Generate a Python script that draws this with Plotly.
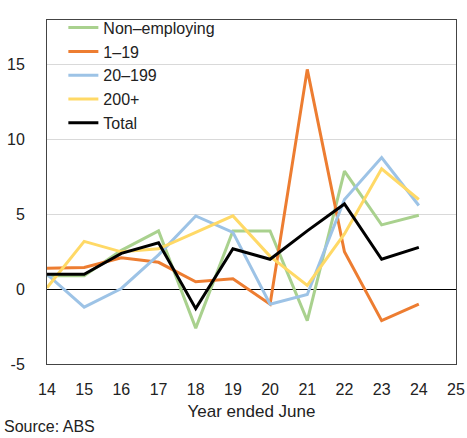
import plotly.graph_objects as go

years = [14, 15, 16, 17, 18, 19, 20, 21, 22, 23, 24]
non_employing = [0.9, 0.9, 2.6, 3.9, -2.6, 3.9, 3.9, -2.1, 7.9, 4.3, 4.95]
small_1_19 = [1.4, 1.45, 2.1, 1.8, 0.5, 0.7, -1.0, 14.7, 2.5, -2.1, -1.0]
mid_20_199 = [1.0, -1.2, 0.05, 2.3, 4.9, 3.8, -1.0, -0.35, 6.0, 8.8, 5.6]
large_200 = [0.1, 3.2, 2.5, 2.7, 3.8, 4.9, 2.2, 0.25, 3.7, 8.05, 6.0]
total = [1.0, 1.0, 2.4, 3.1, -1.3, 2.7, 2.0, 3.9, 5.7, 2.0, 2.8]

x_ticks = list(range(14, 26))
y_ticks = [-5, 0, 5, 10, 15]

series = [
    ("Non\u2013employing", non_employing, "#A9D18E"),
    ("1\u201319", small_1_19, "#ED7D31"),
    ("20\u2013199", mid_20_199, "#9DC3E6"),
    ("200+", large_200, "#FFD966"),
    ("Total", total, "#000000"),
]

fig = go.Figure()
for name, vals, col in series:
    fig.add_trace(go.Scatter(x=years, y=vals, name=name, mode="lines",
                             line=dict(color=col, width=3)))

font = "Liberation Sans, Arial, sans-serif"
fig.update_layout(
    width=467, height=438,
    margin=dict(l=47, r=11, t=13, b=74),
    paper_bgcolor="white", plot_bgcolor="white",
    font=dict(family=font, size=16, color="#222"),
    showlegend=True,
    legend=dict(x=0.04, y=1.027, xanchor="left", yanchor="top",
                bgcolor="rgba(0,0,0,0)", font=dict(size=16),
                tracegroupgap=0, itemwidth=30),
    xaxis=dict(range=[14, 25], tickvals=x_ticks, ticktext=[str(t) for t in x_ticks],
               showgrid=False, zeroline=False, showline=True, linecolor="#444",
               linewidth=1, mirror=True, ticks="", ticklen=0, automargin=False,
               ticklabelstandoff=11,
               title=dict(text="Year ended June", font=dict(size=17), standoff=7)),
    yaxis=dict(range=[-5, 18], tickvals=y_ticks, ticktext=[str(t) for t in y_ticks],
               showgrid=True, gridcolor="#D9D9D9", gridwidth=1,
               zeroline=True, zerolinecolor="#000", zerolinewidth=1,
               showline=True, linecolor="#444", linewidth=1, mirror=True,
               ticks="", ticklabelstandoff=18, automargin=False),
)
fig.add_annotation(text="Source: ABS", xref="paper", yref="paper", x=-0.11, y=-0.183,
                   xanchor="left", yanchor="middle", showarrow=False,
                   font=dict(size=16, family=font))
fig.write_html("out.html", config={"displayModeBar": False},
               post_script="document.body.style.margin='0';")
